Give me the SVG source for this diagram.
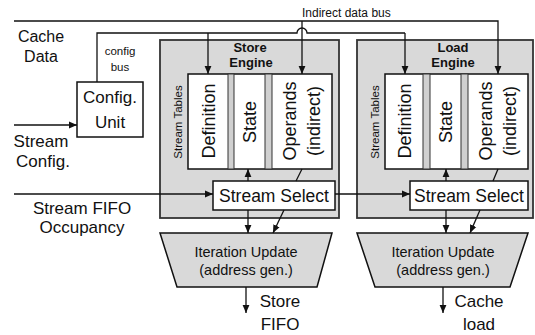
<svg xmlns="http://www.w3.org/2000/svg" width="535" height="335" viewBox="0 0 535 335">
  <defs>
    <marker id="arrow" viewBox="0 0 8 8" refX="8" refY="4" markerWidth="8" markerHeight="8" markerUnits="userSpaceOnUse" orient="auto">
      <path d="M0,0.6 L8,4 L0,7.4 Z" fill="#111"/>
    </marker>
    <style>
      text { font-family: "Liberation Sans", Arial, sans-serif; fill: #111; }
      .engine { fill: #d9d9d9; stroke: #333; stroke-width: 1.8; }
      .box { fill: #fff; stroke: #111; stroke-width: 1.5; }
      .sep { fill: #d0d0d0; stroke: #333; stroke-width: 1; }
      .trap { fill: #d9d9d9; stroke: #111; stroke-width: 1.5; }
      .wire { fill: none; stroke: #111; stroke-width: 1.3; }
      .arr { fill: none; stroke: #111; stroke-width: 1.3; marker-end: url(#arrow); }
      .title { font-size: 13px; font-weight: bold; text-anchor: middle; }
      .col { font-size: 18px; text-anchor: middle; }
      .small { font-size: 11.5px; text-anchor: middle; }
      .label { font-size: 17px; text-anchor: middle; }
      .iter { font-size: 14.5px; text-anchor: middle; }
    </style>
  </defs>

  <!-- Store engine -->
  <g id="store-engine">
    <rect class="engine" x="160" y="40" width="179" height="178"/>
    <text class="title" x="250" y="52">Store</text>
    <text class="title" x="251" y="67">Engine</text>
    <text class="small" transform="translate(182,122) rotate(-90)">Stream Tables</text>
    <rect class="box" x="188" y="74" width="144" height="95"/>
    <rect class="sep" x="228" y="74" width="6" height="95"/>
    <rect class="sep" x="265" y="74" width="7" height="95"/>
    <text class="col" transform="translate(215,121) rotate(-90)">Definition</text>
    <text class="col" transform="translate(256,122) rotate(-90)">State</text>
    <text class="col" transform="translate(296,121) rotate(-90)">Operands</text>
    <text class="col" transform="translate(320,121) rotate(-90)">(indirect)</text>
    <g id="store-select">
      <rect class="box" x="213" y="181" width="122" height="29"/>
      <text class="label" x="274" y="202" style="font-size:17.5px">Stream Select</text>
    </g>
  </g>

  <!-- Load engine -->
  <g id="load-engine">
    <rect class="engine" x="357" y="40" width="176" height="178"/>
    <text class="title" x="453" y="52">Load</text>
    <text class="title" x="453" y="67">Engine</text>
    <text class="small" transform="translate(379,122) rotate(-90)">Stream Tables</text>
    <rect class="box" x="385" y="74" width="143" height="95"/>
    <rect class="sep" x="423" y="74" width="7" height="95"/>
    <rect class="sep" x="461" y="74" width="7" height="95"/>
    <text class="col" transform="translate(411,121) rotate(-90)">Definition</text>
    <text class="col" transform="translate(452,122) rotate(-90)">State</text>
    <text class="col" transform="translate(492,121) rotate(-90)">Operands</text>
    <text class="col" transform="translate(516,121) rotate(-90)">(indirect)</text>
    <g id="load-select">
      <rect class="box" x="410" y="181" width="118" height="29"/>
      <text class="label" x="469" y="202" style="font-size:17.5px">Stream Select</text>
    </g>
  </g>

  <!-- Iteration update (address generation) units -->
  <g id="store-iter">
    <polygon class="trap" points="160,233 332,233 317,287 177,287"/>
    <text class="iter" x="246" y="257">Iteration Update</text>
    <text class="iter" x="246" y="275">(address gen.)</text>
  </g>
  <g id="load-iter">
    <polygon class="trap" points="357,233 528,233 510,287 375,287"/>
    <text class="iter" x="443" y="257">Iteration Update</text>
    <text class="iter" x="443" y="275">(address gen.)</text>
  </g>

  <!-- Config unit -->
  <g id="config-unit">
    <rect class="box" x="77" y="82" width="66" height="55"/>
    <text class="label" x="110" y="103">Config.</text>
    <text class="label" x="110" y="128">Unit</text>
  </g>

  <!-- Free-standing labels -->
  <g id="labels">
    <text class="label" x="41" y="42" style="font-size:16px">Cache</text>
    <text class="label" x="41" y="62" style="font-size:16px">Data</text>
    <text class="small" x="120" y="55">config</text>
    <text class="small" x="120" y="71">bus</text>
    <text x="302" y="17" style="font-size:12px">Indirect data bus</text>
    <text class="label" x="41" y="147">Stream</text>
    <text class="label" x="43" y="167">Config.</text>
    <text class="label" x="82" y="214">Stream FIFO</text>
    <text class="label" x="82" y="233">Occupancy</text>
    <text class="label" x="280" y="307">Store</text>
    <text class="label" x="280" y="330">FIFO</text>
    <text class="label" x="479" y="307">Cache</text>
    <text class="label" x="479" y="330">load</text>
  </g>

  <!-- Connectors -->
  <g id="connectors">
    <!-- indirect data bus -->
    <path class="arr" d="M14,21 H498 V74"/>
    <path class="arr" d="M302,21 V74"/>
    <!-- config bus, hopping over the indirect bus -->
    <path class="wire" d="M97,82 V33 H297 A5,5 0 0 1 307,33 H405"/>
    <path class="arr" d="M208,33 V74"/>
    <path class="arr" d="M405,33 V74"/>
    <!-- stream config and FIFO occupancy inputs -->
    <path class="arr" d="M14,125 H77"/>
    <path class="arr" d="M14,194 H213"/>
    <path class="arr" d="M335,194 H410"/>
    <!-- store engine internals -->
    <path class="arr" d="M248,181 V169"/>
    <path class="wire" d="M302,169 L296,181"/>
    <path class="arr" d="M248,210 V233"/>
    <path class="arr" d="M284,210 L273,233"/>
    <!-- load engine internals -->
    <path class="arr" d="M446,181 V169"/>
    <path class="wire" d="M498,169 L493,181"/>
    <path class="arr" d="M446,210 V233"/>
    <path class="arr" d="M480,210 L470,233"/>
    <!-- outputs -->
    <path class="arr" d="M246,287 V313"/>
    <path class="arr" d="M443,287 V313"/>
  </g>
</svg>
